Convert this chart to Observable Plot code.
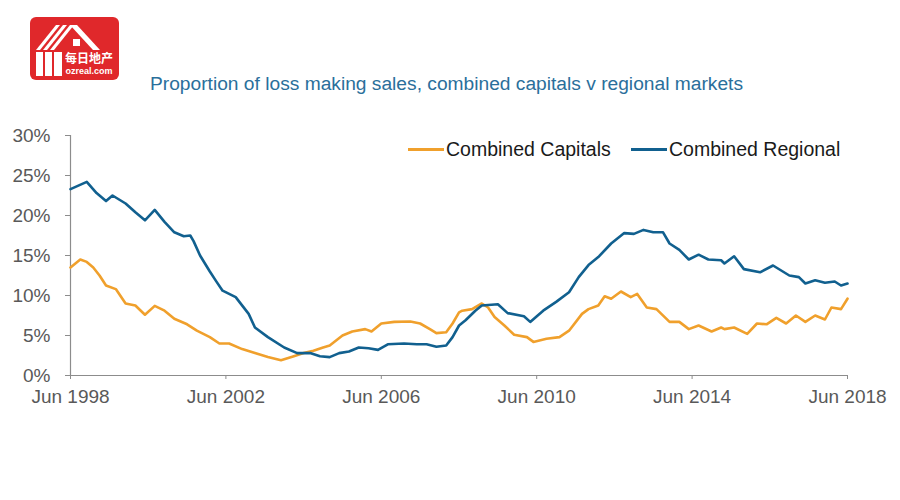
<!DOCTYPE html>
<html>
<head>
<meta charset="utf-8">
<script src="https://cdn.jsdelivr.net/npm/d3@7"></script>
<script src="https://cdn.jsdelivr.net/npm/@observablehq/plot@0.6"></script>
<style>
  html, body { margin: 0; padding: 0; background: #fff; }
  #wrap { position: relative; width: 900px; height: 500px; font-family: "Liberation Sans", Arial, sans-serif; }
  #chart { position: absolute; left: 0; top: 0; }
  #title { position: absolute; left: 0; width: 893px; top: 73px; text-align: center; font-size: 19.2px; color: #2a6f9b; white-space: nowrap; }
  .leg { position: absolute; top: 138px; font-size: 19.5px; color: #1a1a1a; white-space: nowrap; display: flex; align-items: center; }
  .leg span.sw { display: inline-block; width: 36px; height: 3px; margin-right: 2px; }
  #logo { position: absolute; left: 30px; top: 17px; }
</style>
</head>
<body>
<div id="wrap">
  <div id="chart"></div>
  <svg id="logo" width="90" height="64" viewBox="0 0 90 64">
    <rect x="0" y="0" width="89" height="63" rx="6" fill="#e0282b"/>
    <g fill="#fff">
      <polygon points="6,33 26,8 30,8 10,33"/>
      <polygon points="13,33 33,8 37,8 17,33"/>
      <polygon points="20,33 40,8 44,8 24,33"/>
      <polygon points="40,8 47,8 70,33 63,33"/>
      <rect x="6" y="35" width="7" height="24"/>
      <rect x="15" y="35" width="7" height="24"/>
      <rect x="24" y="35" width="8" height="24"/>
      <rect x="43" y="22" width="7" height="7"/>
    </g>
    <text x="59" y="46" text-anchor="middle" font-family="Noto Sans CJK SC" font-weight="bold" font-size="12" fill="#fff">每日地产</text>
    <text x="59" y="57" text-anchor="middle" font-family="Liberation Sans" font-weight="bold" font-size="9" fill="#fff">ozreal.com</text>
  </svg>
  <div id="title">Proportion of loss making sales, combined capitals v regional markets</div>
  <div class="leg" style="left:408px"><span class="sw" style="background:#f0a02c"></span>Combined Capitals</div>
  <div class="leg" style="left:631px"><span class="sw" style="background:#11608f"></span>Combined Regional</div>
</div>
<script>
// Combined Capitals (% of sales made at a loss)
const capDates = ["1998-06","1998-09","1998-11","1999-01","1999-03","1999-05","1999-08","1999-11","2000-02","2000-05","2000-08","2000-11","2001-02","2001-06","2001-09","2002-01","2002-04","2002-07","2002-11","2003-03","2003-07","2003-11","2004-03","2004-06","2004-09","2004-12","2005-02","2005-06","2005-09","2006-01","2006-03","2006-06","2006-10","2007-03","2007-06","2007-09","2007-11","2008-02","2008-04","2008-06","2008-07","2008-10","2009-01","2009-03","2009-05","2009-08","2009-11","2010-03","2010-05","2010-09","2011-01","2011-04","2011-08","2011-10","2012-01","2012-03","2012-05","2012-08","2012-11","2013-01","2013-04","2013-07","2013-11","2014-02","2014-05","2014-08","2014-12","2015-03","2015-04","2015-07","2015-11","2016-02","2016-05","2016-08","2016-11","2017-02","2017-05","2017-08","2017-11","2018-01","2018-04","2018-06"];
const capValues = [13.5,14.5,14.2,13.5,12.5,11.25,10.8,9.0,8.75,7.6,8.7,8.1,7.1,6.4,5.6,4.8,4.0,4.0,3.3,2.8,2.3,1.9,2.4,2.8,3.1,3.5,3.75,5.0,5.5,5.8,5.5,6.5,6.7,6.75,6.5,5.8,5.3,5.4,6.5,7.9,8.1,8.3,9.0,8.5,7.3,6.25,5.1,4.8,4.2,4.6,4.8,5.6,7.7,8.3,8.75,9.9,9.6,10.5,9.8,10.2,8.5,8.3,6.7,6.7,5.8,6.25,5.5,6.0,5.8,6.0,5.2,6.5,6.4,7.2,6.5,7.5,6.7,7.5,7.0,8.5,8.3,9.6];

// Combined Regional (% of sales made at a loss)
const regDates = ["1998-06","1998-11","1999-02","1999-05","1999-07","1999-11","2000-02","2000-05","2000-08","2000-11","2001-02","2001-05","2001-07","2001-08","2001-10","2002-01","2002-03","2002-05","2002-09","2003-01","2003-03","2003-07","2003-12","2004-04","2004-08","2004-11","2005-02","2005-05","2005-08","2005-11","2006-02","2006-05","2006-08","2007-01","2007-05","2007-08","2007-11","2008-02","2008-04","2008-06","2008-08","2008-11","2009-01","2009-06","2009-09","2010-02","2010-04","2010-08","2010-12","2011-04","2011-07","2011-10","2012-01","2012-05","2012-09","2012-12","2013-03","2013-06","2013-09","2013-11","2014-02","2014-05","2014-08","2014-11","2015-03","2015-04","2015-07","2015-10","2016-03","2016-07","2016-12","2017-03","2017-05","2017-08","2017-11","2018-02","2018-04","2018-06"];
const regValues = [23.3,24.2,22.8,21.8,22.5,21.5,20.4,19.4,20.7,19.2,17.9,17.4,17.5,16.8,15.0,13.0,11.8,10.6,9.8,7.7,6.0,4.8,3.5,2.8,2.8,2.4,2.3,2.8,3.0,3.5,3.4,3.2,3.9,4.0,3.9,3.9,3.6,3.75,4.8,6.25,6.9,8.1,8.75,8.9,7.8,7.4,6.7,8.1,9.2,10.4,12.3,13.8,14.8,16.5,17.8,17.7,18.2,17.9,17.9,16.5,15.7,14.5,15.1,14.5,14.4,14.0,14.9,13.3,12.9,13.75,12.5,12.3,11.5,11.9,11.6,11.75,11.25,11.5];

const xTicks = ["1998-06","2002-06","2006-06","2010-06","2014-06","2018-06"];
const yTicks = [0,5,10,15,20,25,30];

const parse = d3.utcParse("%Y-%m");
const cap = capDates.map((d, i) => ({date: parse(d), value: capValues[i]}));
const reg = regDates.map((d, i) => ({date: parse(d), value: regValues[i]}));
const xStart = parse(xTicks[0]), xEnd = parse(xTicks[xTicks.length - 1]);

const chart = Plot.plot({
  width: 900,
  height: 500,
  marginLeft: 70,
  marginRight: 53,
  marginTop: 135,
  marginBottom: 125,
  style: {fontFamily: "'Liberation Sans', Arial, sans-serif", fontSize: "19px", color: "#595959", background: "transparent"},
  x: {type: "utc", domain: [xStart, xEnd]},
  y: {domain: [0, 30]},
  marks: [
    Plot.axisY({ticks: yTicks, tickSize: 5, tickPadding: 15, tickFormat: d => d + "%", label: null, stroke: "#8c8c8c", fill: "#595959"}),
    Plot.axisX({ticks: xTicks.map(parse), tickSize: 4, tickPadding: 10, tickFormat: d => "Jun " + d.getUTCFullYear(), label: null, stroke: "#8c8c8c", fill: "#595959"}),
    Plot.ruleX([xStart], {stroke: "#8c8c8c", strokeWidth: 1.2}),
    Plot.ruleY([0], {stroke: "#8c8c8c", strokeWidth: 1.2}),
    Plot.line(cap, {x: "date", y: "value", stroke: "#f0a02c", strokeWidth: 2.6, curve: "linear"}),
    Plot.line(reg, {x: "date", y: "value", stroke: "#11608f", strokeWidth: 2.6, curve: "linear"})
  ]
});
document.getElementById("chart").appendChild(chart);
</script>
</body>
</html>
